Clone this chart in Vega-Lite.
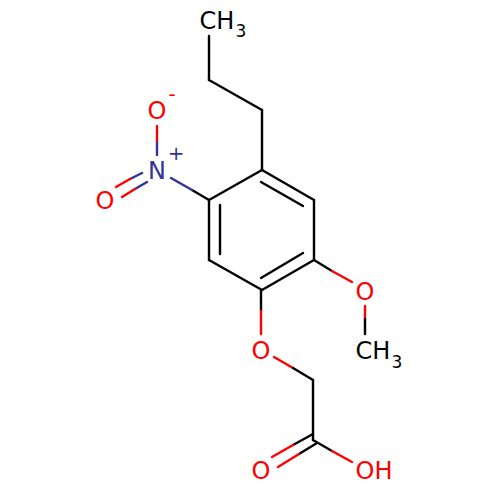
{
  "$schema": "https://vega.github.io/schema/vega-lite/v6.json",
  "width": 500,
  "height": 500,
  "padding": 0,
  "autosize": {"type": "none"},
  "background": "white",
  "config": {"view": {"stroke": null}},
  "datasets": {
    "bonds": [
      {"x": 209, "y": 36, "x2": 209, "y2": 80, "atom": "C"},
      {"x": 209, "y": 80, "x2": 262, "y2": 110, "atom": "C"},
      {"x": 262, "y": 110, "x2": 262, "y2": 170, "atom": "C"},
      {"x": 262, "y": 170, "x2": 314, "y2": 200, "atom": "C"},
      {"x": 314, "y": 200, "x2": 314, "y2": 260, "atom": "C"},
      {"x": 314, "y": 260, "x2": 262, "y2": 290, "atom": "C"},
      {"x": 262, "y": 290, "x2": 209, "y2": 260, "atom": "C"},
      {"x": 209, "y": 260, "x2": 209, "y2": 200, "atom": "C"},
      {"x": 209, "y": 200, "x2": 262, "y2": 170, "atom": "C"},
      {"x": 261, "y": 182, "x2": 303, "y2": 206, "atom": "C"},
      {"x": 303, "y": 253, "x2": 261, "y2": 278, "atom": "C"},
      {"x": 220, "y": 254, "x2": 220, "y2": 205, "atom": "C"},
      {"x": 209, "y": 200, "x2": 192, "y2": 190, "atom": "C"},
      {"x": 192, "y": 190, "x2": 171, "y2": 178, "atom": "N"},
      {"x": 157, "y": 155, "x2": 157, "y2": 141, "atom": "N"},
      {"x": 157, "y": 141, "x2": 157, "y2": 126, "atom": "O"},
      {"x": 142, "y": 173, "x2": 130, "y2": 179, "atom": "N"},
      {"x": 130, "y": 179, "x2": 116, "y2": 187, "atom": "O"},
      {"x": 147, "y": 182, "x2": 135, "y2": 189, "atom": "N"},
      {"x": 135, "y": 189, "x2": 122, "y2": 197, "atom": "O"},
      {"x": 314, "y": 260, "x2": 332, "y2": 271, "atom": "C"},
      {"x": 332, "y": 271, "x2": 352, "y2": 282, "atom": "O"},
      {"x": 365, "y": 306, "x2": 365, "y2": 319, "atom": "O"},
      {"x": 365, "y": 319, "x2": 365, "y2": 334, "atom": "C"},
      {"x": 261, "y": 290, "x2": 261, "y2": 311, "atom": "C"},
      {"x": 261, "y": 311, "x2": 261, "y2": 334, "atom": "O"},
      {"x": 274, "y": 357, "x2": 293, "y2": 368, "atom": "O"},
      {"x": 293, "y": 368, "x2": 313, "y2": 380, "atom": "C"},
      {"x": 313, "y": 380, "x2": 313, "y2": 440, "atom": "C"},
      {"x": 313, "y": 434, "x2": 293, "y2": 445, "atom": "C"},
      {"x": 293, "y": 445, "x2": 272, "y2": 457, "atom": "O"},
      {"x": 317, "y": 443, "x2": 299, "y2": 454, "atom": "C"},
      {"x": 299, "y": 454, "x2": 278, "y2": 467, "atom": "O"},
      {"x": 313, "y": 440, "x2": 332, "y2": 451, "atom": "C"},
      {"x": 332, "y": 451, "x2": 352, "y2": 462, "atom": "O"}
    ],
    "labels": [
      {"x": 217, "y": 21.5, "text": "CH", "atom": "C"},
      {"x": 157, "y": 111.5, "text": "O", "atom": "O"},
      {"x": 157, "y": 171.5, "text": "N", "atom": "N"},
      {"x": 105, "y": 201.5, "text": "O", "atom": "O"},
      {"x": 365, "y": 292.5, "text": "O", "atom": "O"},
      {"x": 373, "y": 351.5, "text": "CH", "atom": "C"},
      {"x": 261, "y": 352, "text": "O", "atom": "O"},
      {"x": 261, "y": 471.5, "text": "O", "atom": "O"},
      {"x": 374, "y": 471.5, "text": "OH", "atom": "O"}
    ],
    "subscripts": [
      {"x": 241, "y": 32, "text": "3", "atom": "C"},
      {"x": 397, "y": 362.5, "text": "3", "atom": "C"}
    ],
    "charges": [
      {"x": 176, "y": 154, "text": "+", "atom": "N"},
      {"x": 172, "y": 94.5, "text": "-", "atom": "O"}
    ]
  },
  "encoding": {
    "x": {"field": "x", "type": "quantitative", "scale": {"domain": [0, 500], "nice": false}, "axis": null},
    "y": {"field": "y", "type": "quantitative", "scale": {"domain": [500, 0], "nice": false}, "axis": null},
    "color": {
      "field": "atom",
      "type": "nominal",
      "legend": null,
      "scale": {"domain": ["C", "N", "O"], "range": ["#000000", "#333399", "#ff0000"]}
    }
  },
  "layer": [
    {
      "data": {"name": "bonds"},
      "mark": {"type": "rule", "strokeWidth": 2.4, "strokeCap": "round"},
      "encoding": {
        "x2": {"field": "x2"},
        "y2": {"field": "y2"}
      }
    },
    {
      "data": {"name": "labels"},
      "mark": {"type": "text", "font": "DejaVu Sans", "fontSize": 24, "align": "center", "baseline": "middle"},
      "encoding": {"text": {"field": "text"}}
    },
    {
      "data": {"name": "subscripts"},
      "mark": {"type": "text", "font": "DejaVu Sans", "fontSize": 17, "align": "center", "baseline": "middle"},
      "encoding": {"text": {"field": "text"}}
    },
    {
      "data": {"name": "charges"},
      "mark": {"type": "text", "font": "DejaVu Sans", "fontSize": 20, "align": "center", "baseline": "middle"},
      "encoding": {"text": {"field": "text"}}
    }
  ]
}
